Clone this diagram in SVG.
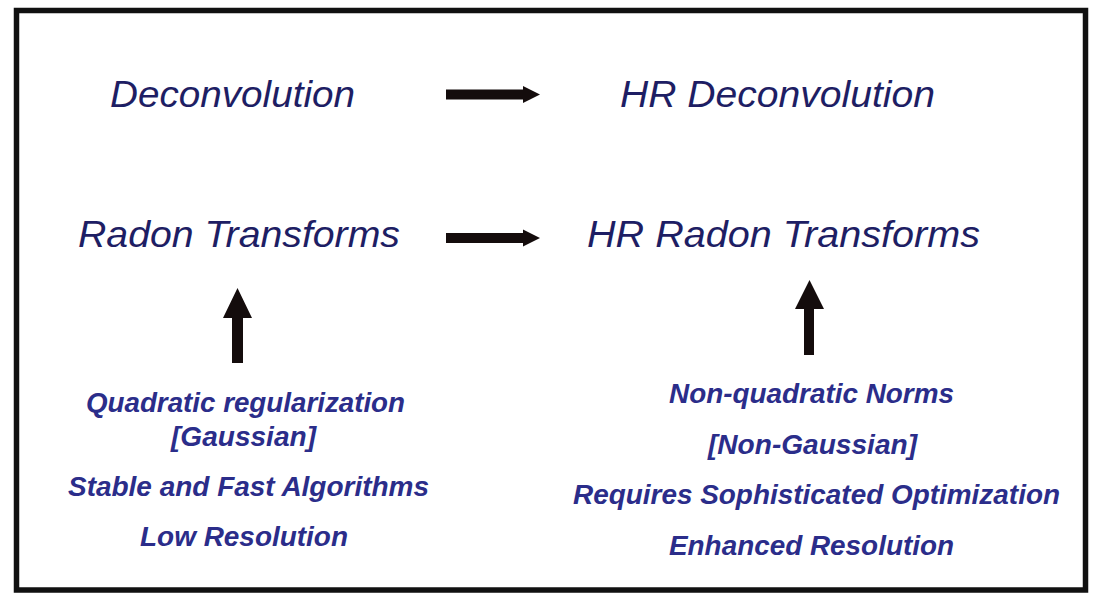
<svg xmlns="http://www.w3.org/2000/svg" width="1100" height="600" viewBox="0 0 1100 600">
<style>
.big{font-family:"Liberation Sans",Arial,sans-serif;font-style:italic;font-size:37px;fill:#1e1e64;text-anchor:middle}
.note{font-family:"Liberation Sans",Arial,sans-serif;font-style:italic;font-weight:bold;font-size:27px;fill:#2b2d8a;text-anchor:middle}
.arrow{fill:#140c0c}
</style>
<rect x="0" y="0" width="1100" height="600" fill="#ffffff"/>
<rect x="16.5" y="10.5" width="1069" height="579.5" fill="none" stroke="#111111" stroke-width="5.5"/>
<g id="deconvolution"><text class="big" x="232.5" y="107" textLength="245" lengthAdjust="spacingAndGlyphs">Deconvolution</text></g>
<g id="hr-deconvolution"><text class="big" x="777.5" y="107" textLength="315" lengthAdjust="spacingAndGlyphs">HR Deconvolution</text></g>
<g id="radon"><text class="big" x="239" y="247" textLength="322" lengthAdjust="spacingAndGlyphs">Radon Transforms</text></g>
<g id="hr-radon"><text class="big" x="783.5" y="247" textLength="393" lengthAdjust="spacingAndGlyphs">HR Radon Transforms</text></g>
<g id="left-notes">
<text class="note" x="245.5" y="412" textLength="319" lengthAdjust="spacingAndGlyphs">Quadratic regularization</text>
<text class="note" x="243.5" y="446" textLength="145" lengthAdjust="spacingAndGlyphs">[Gaussian]</text>
<text class="note" x="248.5" y="496" textLength="361" lengthAdjust="spacingAndGlyphs">Stable and Fast Algorithms</text>
<text class="note" x="244" y="546" textLength="208" lengthAdjust="spacingAndGlyphs">Low Resolution</text>
</g>
<g id="right-notes">
<text class="note" x="811.5" y="403" textLength="285" lengthAdjust="spacingAndGlyphs">Non-quadratic Norms</text>
<text class="note" x="812.5" y="454" textLength="209" lengthAdjust="spacingAndGlyphs">[Non-Gaussian]</text>
<text class="note" x="816.5" y="504" textLength="487" lengthAdjust="spacingAndGlyphs">Requires Sophisticated Optimization</text>
<text class="note" x="811.5" y="555" textLength="285" lengthAdjust="spacingAndGlyphs">Enhanced Resolution</text>
</g>
<g id="connectors">
<polygon class="arrow" points="446,89.5 523,89.5 523,86 540,94.5 523,103 523,99.5 446,99.5"/>
<polygon class="arrow" points="446,233 523,233 523,229.5 540,238 523,246.5 523,243 446,243"/>
<polygon class="arrow" points="232,363 232,318 223,318 237.5,288 252,318 243,318 243,363"/>
<polygon class="arrow" points="804,355 804,309 795,309 809.5,280 824,309 814,309 814,355"/>
</g>
</svg>
